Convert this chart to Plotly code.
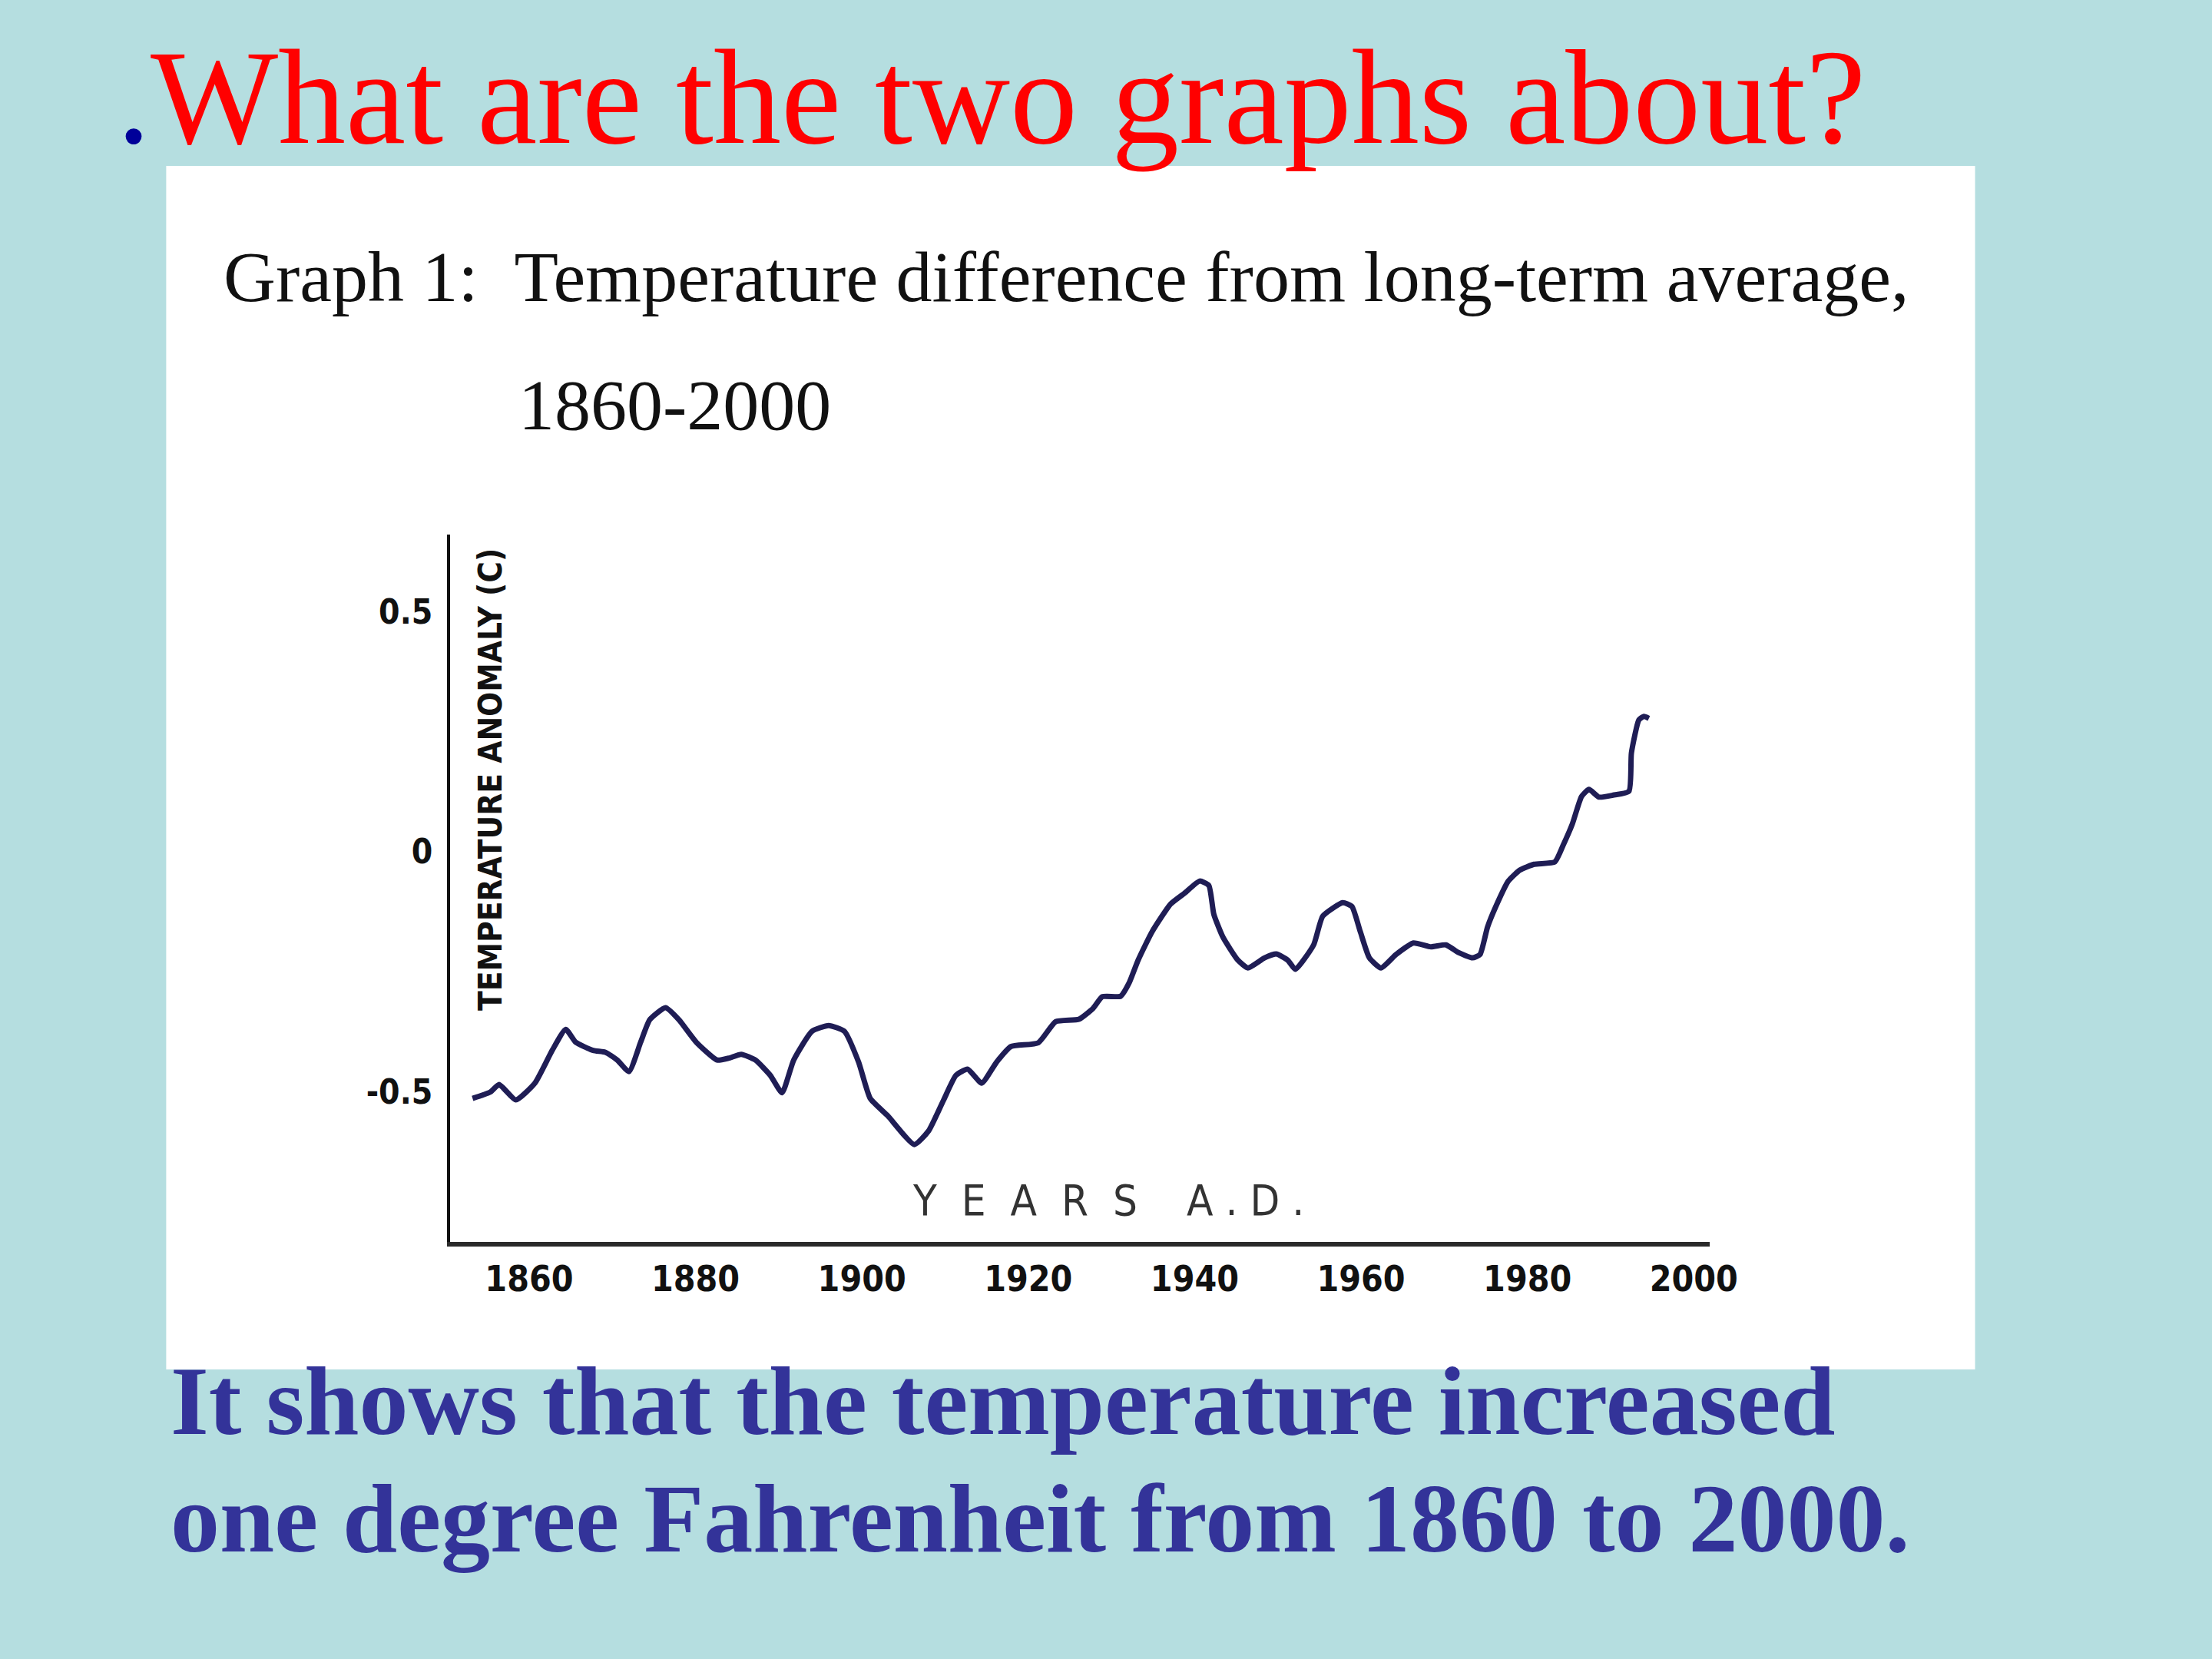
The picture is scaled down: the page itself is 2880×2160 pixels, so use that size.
import plotly.graph_objects as go

# ---------------- data ----------------
years = [1853.2, 1855.3, 1856.4, 1858.4, 1860.7, 1862.8, 1864.4, 1865.6, 1867.7, 1869.2,
         1870.6, 1872.0, 1873.4, 1874.5, 1876.4, 1878.0, 1880.1, 1882.6, 1884.0, 1885.5,
         1887.2, 1889.0, 1890.4, 1891.8, 1894.0, 1896.0, 1897.9, 1899.6, 1901.0, 1903.1,
         1906.3, 1908.0, 1909.8, 1911.3, 1912.7, 1914.4, 1916.2, 1917.9, 1921.2, 1923.3,
         1926.1, 1927.8, 1928.9, 1931.1, 1932.1, 1933.2, 1934.9, 1937.1, 1938.8, 1940.6,
         1941.7, 1942.3, 1943.4, 1945.2, 1946.4, 1948.4, 1949.8, 1951.2, 1952.1, 1954.3,
         1955.4, 1957.8, 1958.9, 1959.9, 1961.0, 1962.4, 1964.2, 1966.3, 1968.4, 1970.2,
         1971.7, 1973.4, 1974.3, 1975.2, 1976.2, 1977.7, 1979.1, 1980.8, 1983.3, 1984.3,
         1985.4, 1986.5, 1987.4, 1988.6, 1990.3, 1992.2, 1992.5, 1993.4, 1994.0, 1994.6]
anomaly = [-0.514, -0.501, -0.485, -0.517, -0.482, -0.413, -0.370, -0.397, -0.414, -0.418,
           -0.434, -0.458, -0.397, -0.350, -0.325, -0.350, -0.397, -0.434, -0.430, -0.422,
           -0.434, -0.466, -0.502, -0.434, -0.374, -0.362, -0.374, -0.438, -0.514, -0.550,
           -0.610, -0.582, -0.518, -0.466, -0.453, -0.482, -0.438, -0.406, -0.398, -0.354,
           -0.349, -0.326, -0.302, -0.301, -0.274, -0.226, -0.166, -0.109, -0.086, -0.061,
           -0.070, -0.130, -0.178, -0.226, -0.242, -0.221, -0.213, -0.226, -0.245, -0.194,
           -0.134, -0.106, -0.114, -0.166, -0.221, -0.242, -0.214, -0.190, -0.198, -0.194,
           -0.210, -0.221, -0.214, -0.157, -0.114, -0.061, -0.038, -0.026, -0.021, 0.014,
           0.058, 0.115, 0.130, 0.114, 0.118, 0.126, 0.206, 0.275, 0.282, 0.278]

x_ticks = [1860, 1880, 1900, 1920, 1940, 1960, 1980, 2000]
x_tick_labels = ["1860", "1880", "1900", "1920", "1940", "1960", "1980", "2000"]
y_ticks = [-0.5, 0, 0.5]
y_tick_labels = ["-0.5", "0", "0.5"]

slide_title = "What are the two graphs about?"
graph_title_1 = "Graph 1:\u00a0\u00a0Temperature difference from long-term average,"
graph_title_2 = "1860-2000"
y_title = "TEMPERATURE ANOMALY (C)"
x_title = "Y\u00a0\u00a0E\u00a0\u00a0A\u00a0\u00a0R\u00a0\u00a0S\u00a0\u00a0\u00a0\u00a0A\u00a0.\u00a0D\u00a0."
caption_1 = "It shows that the temperature increased"
caption_2 = "one degree Fahrenheit from 1860 to 2000."

# ---------------- layout helpers ----------------
W, H = 2880, 2160
W_EFF = 2838  # effective rendered paper width (compensation)
def px(x):
    return x / W_EFF
def py(y):
    return 1 - y / H

SERIF = "Liberation Serif, Times New Roman, serif"
NARROW = "Liberation Sans Narrow, Arial Narrow, DejaVu Sans Condensed, Roboto Condensed, Liberation Sans, sans-serif"
BG = "#b5dee0"

fig = go.Figure()
fig.add_trace(go.Scatter(
    x=years, y=anomaly, mode="lines",
    line=dict(color="#1f1d55", width=7, shape="spline", smoothing=0.5),
    hoverinfo="skip", showlegend=False,
))

fig.update_layout(
    width=W, height=H, autosize=False,
    margin=dict(l=0, r=0, t=0, b=0),
    paper_bgcolor=BG,
    plot_bgcolor="rgba(0,0,0,0)",
    showlegend=False,
    xaxis=dict(
        domain=[px(585), px(2222)],
        range=[1850.5, 2001.9],
        tickmode="array", tickvals=x_ticks, ticktext=x_tick_labels,
        showgrid=False, zeroline=False,
        showline=True, linecolor="#2a2a2a", linewidth=6,
        ticks="", ticklabelstandoff=3,
        tickfont=dict(family=NARROW, size=46, color="#111111", weight="bold"),
    ),
    yaxis=dict(
        domain=[py(1617), py(696)],
        range=[-0.813, 0.661],
        tickmode="array", tickvals=y_ticks, ticktext=y_tick_labels,
        showgrid=False, zeroline=False,
        showline=True, linecolor="#111111", linewidth=4,
        ticks="", ticklabelstandoff=10,
        tickfont=dict(family=NARROW, size=44, color="#111111", weight="bold"),
    ),
    shapes=[dict(
        type="rect", xref="paper", yref="paper",
        x0=px(216), x1=px(2567), y0=py(1783), y1=py(216),
        fillcolor="white", line=dict(width=0), layer="below",
    )],
)

ann = []
# slide title with blue bullet dot
ann.append(dict(
    text="<span style='color:#000099'>.</span>" + slide_title,
    x=px(150), y=py(126), xref="paper", yref="paper",
    xanchor="left", yanchor="middle", showarrow=False,
    font=dict(family=SERIF, size=176, color="#ff0000"),
))
# graph title
ann.append(dict(
    text=graph_title_1, x=px(288), y=py(360), xref="paper", yref="paper",
    xanchor="left", yanchor="middle", showarrow=False,
    font=dict(family=SERIF, size=94, color="#111111"),
))
ann.append(dict(
    text=graph_title_2, x=px(672), y=py(527), xref="paper", yref="paper",
    xanchor="left", yanchor="middle", showarrow=False,
    font=dict(family=SERIF, size=94, color="#111111"),
))
# axis titles (inside the plot, as in the original)
ann.append(dict(
    text=y_title, x=px(637), y=py(1015), xref="paper", yref="paper",
    xanchor="center", yanchor="middle", textangle=-90, showarrow=False,
    font=dict(family=NARROW, size=42, color="#111111", weight="bold"),
))
ann.append(dict(
    text=x_title, x=px(1440), y=py(1562), xref="paper", yref="paper",
    xanchor="center", yanchor="middle", showarrow=False,
    font=dict(family=NARROW, size=56, color="#333333"),
))
# caption
ann.append(dict(
    text=caption_1, x=px(220), y=py(1824), xref="paper", yref="paper",
    xanchor="left", yanchor="middle", showarrow=False,
    font=dict(family=SERIF, size=128, color="#333399", weight="bold"),
))
ann.append(dict(
    text=caption_2, x=px(220), y=py(1977), xref="paper", yref="paper",
    xanchor="left", yanchor="middle", showarrow=False,
    font=dict(family=SERIF, size=128, color="#333399", weight="bold"),
))
fig.update_layout(annotations=ann)

fig.write_html("out.html", config={"responsive": False})
